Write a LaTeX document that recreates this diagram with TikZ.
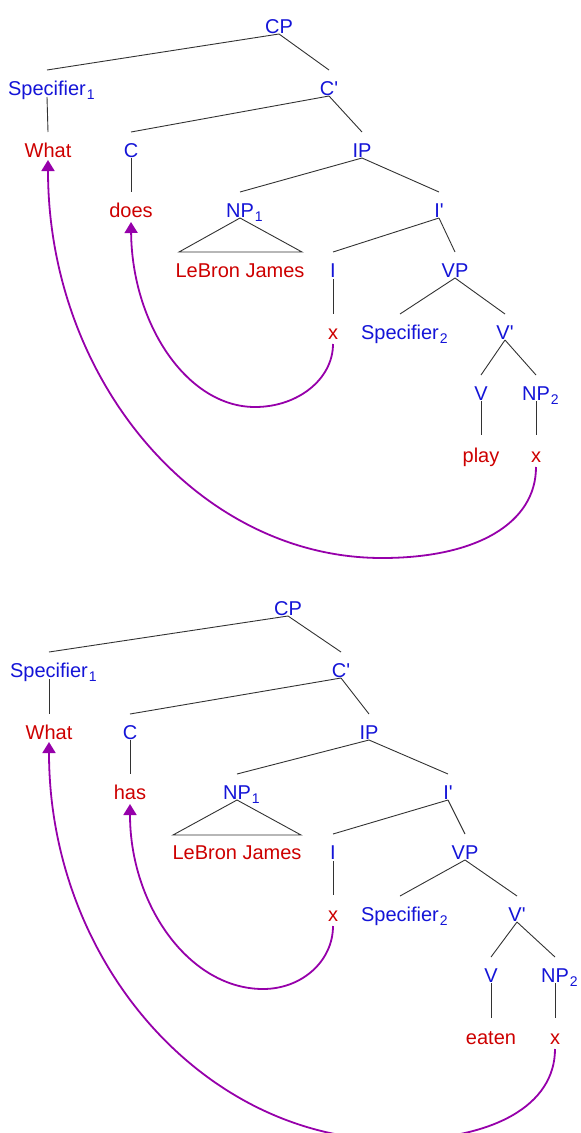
\documentclass[tikz,border=0pt]{standalone}
\usepackage{fontspec}
\setmainfont{Liberation Sans}[Ligatures=TeXOff]
\usetikzlibrary{arrows.meta}
\definecolor{catblue}{RGB}{20,20,215}
\definecolor{wordred}{RGB}{205,0,0}
\definecolor{movepurple}{RGB}{150,0,170}
\definecolor{branchgray}{RGB}{50,50,50}
\newcommand\mysub[1]{\rlap{\kern1pt\raisebox{-4pt}{\fontsize{14}{14}\selectfont #1}}}
\tikzset{
  cat/.style={text=catblue, anchor=base, inner sep=0pt, font=\fontsize{20}{22}\selectfont},
  word/.style={text=wordred, anchor=base, inner sep=0pt, font=\fontsize{20}{22}\selectfont},
  branch/.style={draw=branchgray, line width=0.9pt},
  move/.style={draw=movepurple, line width=1.8pt, -{Triangle[width=13pt,length=11pt]}},
}
\begin{document}
\begin{tikzpicture}[x=1pt,y=-1pt]
\useasboundingbox (0,0) rectangle (581,1133);
\clip (0,0) rectangle (581,1133);
% ---------------- top tree ----------------
\node[cat]  (aCP)  at (279,33)  {CP};
\node[cat]  (aS1)  at (47,95)   {Specifier\mysub{1}};
\node[cat]  (aCb)  at (329,95)  {C'};
\node[word] (aWh)  at (48,157)  {What};
\node[cat]  (aC)   at (131,157) {C};
\node[cat]  (aIP)  at (362,157) {IP};
\node[word] (aDo)  at (131,217) {does};
\node[cat]  (aNP1) at (240,217) {NP\mysub{1}};
\node[cat]  (aIb)  at (439,217) {I'};
\node[word] (aLB)  at (240,277) {LeBron James};
\node[cat]  (aI)   at (333,277) {I};
\node[cat]  (aVP)  at (455,277) {VP};
\node[word] (aX1)  at (333,339) {x};
\node[cat]  (aS2)  at (400,339) {Specifier\mysub{2}};
\node[cat]  (aVb)  at (505,339) {V'};
\node[cat]  (aV)   at (481,400) {V};
\node[cat]  (aNP2) at (536,400) {NP\mysub{2}};
\node[word] (aPl)  at (481,462) {play};
\node[word] (aX2)  at (536,462) {x};

\draw[branch] ([yshift=-1pt]aCP.base) -- ([yshift=25pt]aS1.base);
\draw[branch] ([yshift=-1pt]aCP.base) -- ([yshift=25pt]aCb.base);
\draw[branch] ([yshift=-2pt]aS1.base) -- ([yshift=25pt]aWh.base);
\draw[branch] ([yshift=-1pt]aCb.base) -- ([yshift=25pt]aC.base);
\draw[branch] ([yshift=-1pt]aCb.base) -- ([yshift=25pt]aIP.base);
\draw[branch] ([yshift=-1pt]aC.base) -- ([yshift=25pt]aDo.base);
\draw[branch] ([yshift=-1pt]aIP.base) -- ([yshift=25pt]aNP1.base);
\draw[branch] ([yshift=-1pt]aIP.base) -- ([yshift=25pt]aIb.base);
\draw[branch] ([yshift=-1pt]aNP1.base) -- ([xshift=-61pt,yshift=25pt]aLB.base)
   -- ([xshift=62pt,yshift=25pt]aLB.base) -- cycle;
\draw[branch] ([yshift=-1pt]aIb.base) -- ([yshift=25pt]aI.base);
\draw[branch] ([yshift=-1pt]aIb.base) -- ([yshift=25pt]aVP.base);
\draw[branch] ([yshift=-2pt]aI.base) -- ([yshift=25pt]aX1.base);
\draw[branch] ([yshift=-1pt]aVP.base) -- ([yshift=25pt]aS2.base);
\draw[branch] ([yshift=-1pt]aVP.base) -- ([yshift=25pt]aVb.base);
\draw[branch] ([yshift=-1pt]aVb.base) -- ([yshift=25pt]aV.base);
\draw[branch] ([yshift=-1pt]aVb.base) -- ([yshift=25pt]aNP2.base);
\draw[branch] ([yshift=-1pt]aV.base) -- ([yshift=27pt]aPl.base);
\draw[branch] ([yshift=-1pt]aNP2.base) -- ([yshift=27pt]aX2.base);

\coordinate (aB1) at (255,407);
\coordinate (aB2) at (382,558);
\draw[move] ([yshift=-5pt]aX1.base) .. controls (333,379) and (298,407) .. (aB1)
   .. controls (187,407) and (132,324) .. ([yshift=-5pt]aDo.base);
\draw[move] ([yshift=-5pt]aX2.base) .. controls (536,523) and (477,558) .. (aB2)
   .. controls (198,558) and (48,380) .. ([yshift=-3pt]aWh.base);

% ---------------- bottom tree ----------------
\node[cat]  (bCP)  at (288,615)  {CP};
\node[cat]  (bS1)  at (49,677)   {Specifier\mysub{1}};
\node[cat]  (bCb)  at (341,677)  {C'};
\node[word] (bWh)  at (49,739)   {What};
\node[cat]  (bC)   at (130,739)  {C};
\node[cat]  (bIP)  at (369,739)  {IP};
\node[word] (bHa)  at (130,799)  {has};
\node[cat]  (bNP1) at (237,799)  {NP\mysub{1}};
\node[cat]  (bIb)  at (448,799)  {I'};
\node[word] (bLB)  at (237,859)  {LeBron James};
\node[cat]  (bI)   at (333,859)  {I};
\node[cat]  (bVP)  at (465,859)  {VP};
\node[word] (bX1)  at (333,921)  {x};
\node[cat]  (bS2)  at (400,921)  {Specifier\mysub{2}};
\node[cat]  (bVb)  at (517,921)  {V'};
\node[cat]  (bV)   at (491,982)  {V};
\node[cat]  (bNP2) at (555,982)  {NP\mysub{2}};
\node[word] (bEa)  at (491,1044) {eaten};
\node[word] (bX2)  at (555,1044) {x};

\draw[branch] ([yshift=-1pt]bCP.base) -- ([yshift=25pt]bS1.base);
\draw[branch] ([yshift=-1pt]bCP.base) -- ([yshift=25pt]bCb.base);
\draw[branch] ([yshift=-2pt]bS1.base) -- ([yshift=25pt]bWh.base);
\draw[branch] ([yshift=-1pt]bCb.base) -- ([yshift=25pt]bC.base);
\draw[branch] ([yshift=-1pt]bCb.base) -- ([yshift=25pt]bIP.base);
\draw[branch] ([yshift=-1pt]bC.base) -- ([yshift=25pt]bHa.base);
\draw[branch] ([yshift=-1pt]bIP.base) -- ([yshift=25pt]bNP1.base);
\draw[branch] ([yshift=-1pt]bIP.base) -- ([yshift=25pt]bIb.base);
\draw[branch] ([yshift=-1pt]bNP1.base) -- ([xshift=-64pt,yshift=24pt]bLB.base)
   -- ([xshift=64pt,yshift=24pt]bLB.base) -- cycle;
\draw[branch] ([yshift=-1pt]bIb.base) -- ([yshift=25pt]bI.base);
\draw[branch] ([yshift=-1pt]bIb.base) -- ([yshift=25pt]bVP.base);
\draw[branch] ([yshift=-2pt]bI.base) -- ([yshift=26pt]bX1.base);
\draw[branch] ([yshift=-1pt]bVP.base) -- ([yshift=25pt]bS2.base);
\draw[branch] ([yshift=-1pt]bVP.base) -- ([yshift=25pt]bVb.base);
\draw[branch] ([yshift=-1pt]bVb.base) -- ([yshift=25pt]bV.base);
\draw[branch] ([yshift=-1pt]bVb.base) -- ([yshift=25pt]bNP2.base);
\draw[branch] ([yshift=-1pt]bV.base) -- ([yshift=26pt]bEa.base);
\draw[branch] ([yshift=-1pt]bNP2.base) -- ([yshift=26pt]bX2.base);

\coordinate (bB1) at (263,989);
\coordinate (bB2) at (395,1140);
\draw[move] ([yshift=-5pt]bX1.base) .. controls (333,961) and (302,989) .. (bB1)
   .. controls (190,989) and (130,906) .. ([yshift=-5pt]bHa.base);
\draw[move] ([yshift=-5pt]bX2.base) .. controls (555,1105) and (494,1140) .. (bB2)
   .. controls (204,1140) and (49,962) .. ([yshift=-3pt]bWh.base);
\end{tikzpicture}
\end{document}
